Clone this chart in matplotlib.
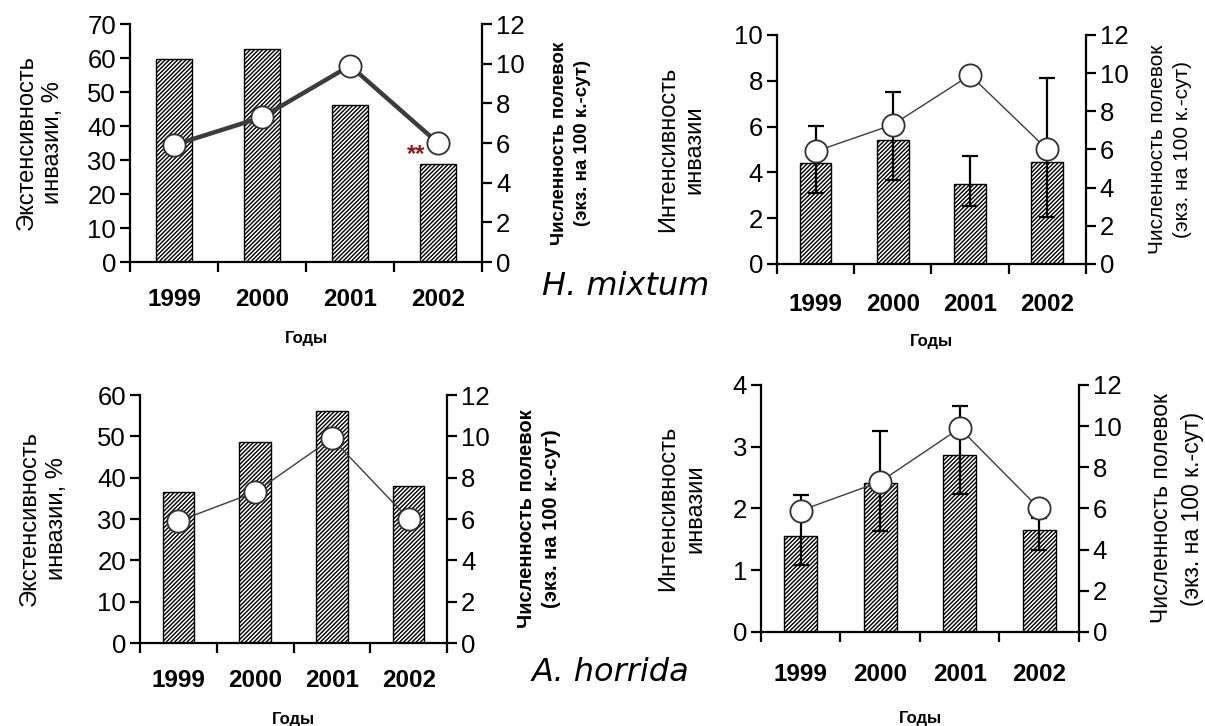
import matplotlib
matplotlib.use("Agg")
import matplotlib.pyplot as plt
import numpy as np

plt.rcParams['font.family'] = ['Liberation Sans', 'DejaVu Sans']
plt.rcParams['hatch.linewidth'] = 1.0
plt.rcParams['hatch.color'] = '#222222'

years = ['1999', '2000', '2001', '2002']
voles = [5.9, 7.3, 9.9, 6.0]          # численность полевок, правая ось

ext_mixtum = [59.7, 62.7, 46.1, 28.8]
int_mixtum = [4.42, 5.40, 3.50, 4.45]
int_mixtum_lo = [3.09, 3.65, 2.51, 2.04]
int_mixtum_hi = [6.04, 7.49, 4.70, 8.13]

ext_horrida = [36.6, 48.7, 56.2, 37.9]
int_horrida = [1.56, 2.41, 2.87, 1.65]
int_horrida_lo = [1.09, 1.63, 2.23, 1.32]
int_horrida_hi = [2.22, 3.26, 3.66, 1.84]

fig = plt.figure(figsize=(12.05, 7.26), dpi=100)


def panel(rect, vals, ymax, ystep, ylabel, ylab_x, rlab_x, rlab_size, rlab_bold,
          year_pad, year_y, lo=None, hi=None, line_w=1.0):
    ax = fig.add_axes(rect)
    x = np.arange(len(years))
    ax.bar(x, vals, width=0.41, color='white', edgecolor='black',
           linewidth=1.0, hatch='////////', zorder=2)
    if lo is not None:
        yerr = [np.array(vals) - np.array(lo), np.array(hi) - np.array(vals)]
        ax.errorbar(x, vals, yerr=yerr, fmt='none', ecolor='black',
                    elinewidth=1.6, capsize=5.5, capthick=1.6, zorder=3)
    ax.set_xlim(-0.5, 3.5)
    ax.set_ylim(0, ymax)
    ax.set_yticks(np.arange(0, ymax + ystep / 2, ystep))
    ax.set_xticks([-0.5, 0.5, 1.5, 2.5, 3.5])
    ax.set_xticklabels([])
    ax.set_xticks(x, minor=True)
    ax.set_xticklabels(years, minor=True, fontsize=17.5, fontweight='bold')
    ax.tick_params(axis='x', which='minor', length=0, pad=year_pad)
    ax.tick_params(axis='x', which='major', direction='out', length=7, width=1.6)
    ax.tick_params(axis='y', direction='out', length=7, width=1.6,
                   labelsize=18.5, pad=3)
    for s in ['top', 'right']:
        ax.spines[s].set_visible(False)
    for s in ['left', 'bottom']:
        ax.spines[s].set_linewidth(1.6)
    ax.set_ylabel(ylabel, fontsize=17, linespacing=1.3, va='center')
    ax.yaxis.set_label_coords(ylab_x, 0.5)
    ax.set_xlabel('Годы', fontsize=12, fontweight='bold', va='center')
    ax.xaxis.set_label_coords(0.5, year_y)

    ax2 = ax.twinx()
    ax2.plot(x, voles, color='#3c3c3c', linewidth=line_w, marker='o',
             markersize=16, markerfacecolor='white',
             markeredgecolor='#303030', markeredgewidth=1.3, zorder=4)
    ax2.set_ylim(0, 12)
    ax2.set_yticks(range(0, 13, 2))
    ax2.tick_params(axis='y', direction='out', length=7, width=1.6,
                    labelsize=18.5, pad=3)
    for s in ['top', 'left', 'bottom']:
        ax2.spines[s].set_visible(False)
    ax2.spines['right'].set_linewidth(1.6)
    ax2.set_ylabel('Численность полевок\n(экз. на 100 к.-сут)',
                   fontsize=rlab_size,
                   fontweight='bold' if rlab_bold else 'normal',
                   linespacing=1.4, rotation=90, va='center')
    ax2.yaxis.set_label_coords(rlab_x, 0.5)
    return ax, ax2


ax1, _ = panel([0.1079, 0.6391, 0.2921, 0.3278], ext_mixtum, 70, 10,
               'Экстенсивность\nинвазии, %', -0.256, 1.253, 13.5, True,
               19, -0.32, line_w=3.2)
ax1.text(2.75, 31.5, '**', color='#8b1a1a', fontsize=17, fontweight='bold',
         ha='center', va='center', zorder=5)

panel([0.6448, 0.6364, 0.2564, 0.3154], int_mixtum, 10, 2,
      'Интенсивность\nинвазии', -0.31, 1.272, 15, False,
      21, -0.34, lo=int_mixtum_lo, hi=int_mixtum_hi)

panel([0.1162, 0.1143, 0.2548, 0.3416], ext_horrida, 60, 10,
      'Экстенсивность\nинвазии, %', -0.316, 1.30, 14.5, True,
      19, -0.31)

panel([0.6315, 0.1295, 0.2639, 0.3402], int_horrida, 4, 1,
      'Интенсивность\nинвазии', -0.25, 1.308, 16.5, False,
      22, -0.35, lo=int_horrida_lo, hi=int_horrida_hi)

fig.text(0.450, 0.605, 'H. mixtum', family='DejaVu Sans', style='italic',
         fontsize=23, va='center', ha='left')
fig.text(0.441, 0.074, 'A. horrida', family='DejaVu Sans', style='italic',
         fontsize=23, va='center', ha='left')

fig.savefig('out.png', dpi=100)
